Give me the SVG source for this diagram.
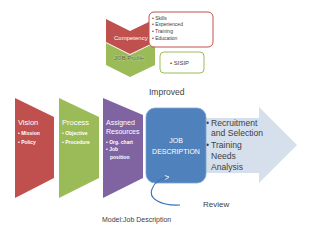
<svg xmlns="http://www.w3.org/2000/svg" width="320" height="240" viewBox="0 0 320 240">
<defs>
<style>
.t{font-family:"Liberation Sans",Arial,sans-serif;}
.w{fill:#ffffff;}
.g{fill:#404040;}
.bl{font-weight:bold;font-size:5px;fill:#ffffff;}
.box{font-size:5px;fill:#404040;}
.a{font-size:8.6px;fill:#404040;}
</style>
<marker id="ah" viewBox="0 0 10 10" refX="9" refY="5" markerWidth="5" markerHeight="5" orient="auto" markerUnits="userSpaceOnUse">
<path d="M1,1 L9,5 L1,9" fill="none" stroke="#ffffff" stroke-width="1.6"/>
</marker>
</defs>
<rect width="320" height="240" fill="#ffffff"/>

<g id="competency">
<polygon points="106,19 130,31 155,19 155,42 130,54 106,42" fill="#c0504d"/>
<text class="t w" x="114" y="39.5" font-size="6">Competency</text>
</g>
<g id="jobprofile">
<polygon points="106,43 130,55 155,43 155,65 130,77 106,65" fill="#9bbb59"/>
<text class="t" x="114" y="60" font-size="6" fill="#4a5a2a" stroke="#e8f0d8" stroke-width="0.3" paint-order="stroke">JOB Profile</text>
</g>
<g id="competency-list">
<rect x="149" y="12" width="64" height="35" rx="5" fill="#ffffff" stroke="#c0504d" stroke-width="1"/>
<text class="t box" x="152" y="19.5">• Skills</text>
<text class="t box" x="152" y="26">• Experienced</text>
<text class="t box" x="152" y="32.5">• Training</text>
<text class="t box" x="152" y="39.5">• Education</text>
</g>
<g id="profile-list">
<rect x="160" y="52" width="44" height="21" rx="4" fill="#ffffff" stroke="#9bbb59" stroke-width="1"/>
<text class="t" x="170" y="64.5" font-size="6" fill="#404040">• SISIP</text>
</g>

<text class="t g" x="149" y="95" font-size="8.5">Improved</text>

<g id="vision">
<polygon points="15,98 54,117 54,178 15,198" fill="#c0504d"/>
<text class="t w" x="18" y="125" font-size="7.5">Vision</text>
<text class="t bl" x="18" y="135">• Mission</text>
<text class="t bl" x="18" y="143.5">• Policy</text>
</g>
<g id="process">
<polygon points="59,98 99,117 99,178 59,198" fill="#9bbb59"/>
<text class="t w" x="62" y="125" font-size="7.5">Process</text>
<text class="t bl" x="62" y="135">• Objective</text>
<text class="t bl" x="62" y="143.5">• Procedure</text>
</g>
<g id="resources">
<polygon points="103,98 143,115 143,178 103,198" fill="#8064a2"/>
<text class="t w" x="106" y="125" font-size="7">Assigned</text>
<text class="t w" x="106" y="133.5" font-size="7">Resources</text>
<text class="t bl" x="106" y="143.5">• Org. chart</text>
<text class="t bl" x="106" y="151">• Job</text>
<text class="t bl" x="110" y="158.5">position</text>
</g>

<g id="outcomes">
<polygon points="195,118 259,118 259,107 297,145 259,183 259,173 195,173" fill="#d6dfec"/>
<text class="t a" x="206" y="125.5">•</text>
<text class="t a" x="211" y="125.5">Recruitment</text>
<text class="t a" x="211" y="136">and Selection</text>
<text class="t a" x="206" y="148">•</text>
<text class="t a" x="211" y="148">Training</text>
<text class="t a" x="211" y="159">Needs</text>
<text class="t a" x="211" y="170">Analysis</text>
</g>

<g id="jobdescription">
<rect x="146" y="108" width="60" height="75" rx="9" fill="#4f81bd" stroke="#7ea3d1" stroke-width="0.8"/>
<text class="t w" x="176" y="143" font-size="7" text-anchor="middle">JOB</text>
<text class="t w" x="176" y="154" font-size="7" text-anchor="middle">DESCRIPTION</text>
</g>

<g id="connectors">
<path d="M180,205 C160,206 148,198 152,189 C155,181 161,178 169,177" fill="none" stroke="#3a72b8" stroke-width="1.1" marker-end="url(#ah)"/>
</g>

<text class="t g" x="203" y="207" font-size="8">Review</text>
<text class="t g" x="102" y="221.5" font-size="7">Model:Job Description</text>
</svg>
